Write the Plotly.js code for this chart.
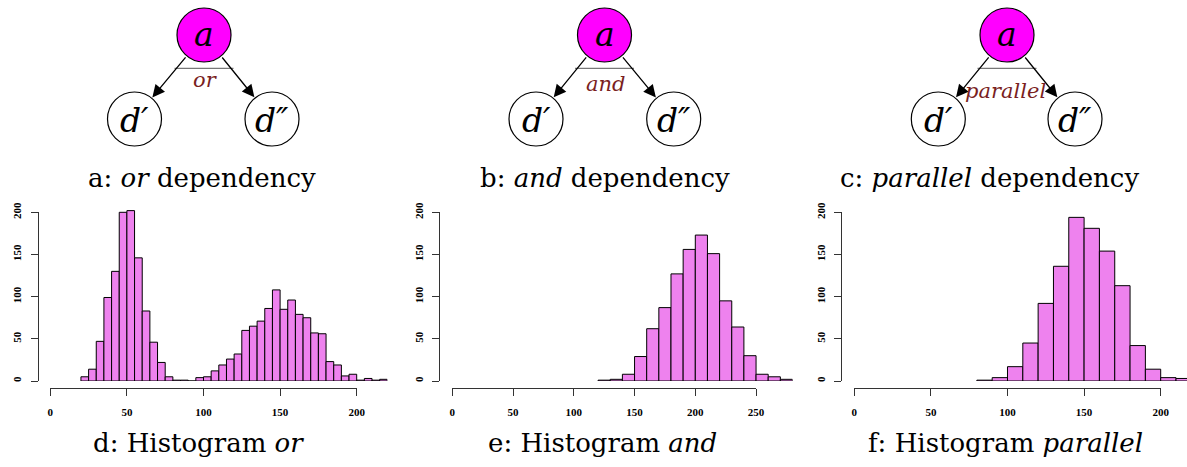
<!DOCTYPE html>
<html><head><meta charset="utf-8">
<script src="https://cdn.plot.ly/plotly-3.0.1.min.js"></script>
<style>html,body{margin:0;padding:0;background:#fff}</style>
</head><body><div id="chart" style="width:1187px;height:467px"></div>
<script>
// ---------------- data ----------------
const orBinStarts = [20,25,30,35,40,45,50,55,60,65,70,75,80,85,90,95,100,105,110,115,120,125,130,135,140,145,150,155,160,165,170,175,180,185,190,195,200,205,210,215];
const orCounts    = [5,14,47,99,130,200,202,146,83,46,22,5,1,1,0,4,5,12,19,26,32,60,65,71,86,108,85,96,79,75,57,56,23,19,6,8,1,3,1,2];
const andBinStarts = [120,130,140,150,160,170,180,190,200,210,220,230,240,250,260,270];
const andCounts    = [1,2,8,29,62,87,127,156,173,151,95,64,30,8,5,2];
const parBinStarts = [80,90,100,110,120,130,140,150,160,170,180,190,200,210];
const parCounts    = [1,4,17,45,92,136,194,181,154,113,42,14,4,3];
const orTicks  = [0,50,100,150,200];
const andTicks = [0,50,100,150,200,250];
const parTicks = [0,50,100,150,200];
const yTicks   = [0,50,100,150,200];
const topCaptions = ['a: <i>or</i> dependency','b: <i>and</i> dependency','c: <i>parallel</i> dependency'];
const edgeLabels  = ['or','and','parallel'];
const histCaptions = ['d: Histogram <i>or</i>','e: Histogram <i>and</i>','f: Histogram <i>parallel</i>'];

// ---------------- geometry helpers (pixels -> paper) ----------------
const W = 1187, H = 467;
const fx = p => p / W;
const fy = p => 1 - p / H;

const Y0PX = 381, YPPU = 0.8435, XAXIS_Y = 387.7;
const panels = [
  {bins: orBinStarts,  counts: orCounts,  width: 5,  ticks: orTicks,  x0: 50.3,  ppu: 1.532, dataMax: 220, yAxisX: 37.7},
  {bins: andBinStarts, counts: andCounts, width: 10, ticks: andTicks, x0: 452.3, ppu: 1.215, dataMax: 280, yAxisX: 439.3},
  {bins: parBinStarts, counts: parCounts, width: 10, ticks: parTicks, x0: 854.3, ppu: 1.532, dataMax: (W - 854.3) / 1.532, yAxisX: 841}
];

const tickFont = {family: 'Liberation Serif, serif', size: 11, color: '#000', weight: 'bold'};
const traces = [];
const layout = {
  width: W, height: H, autosize: false,
  margin: {l: 0, r: 0, t: 0, b: 0, pad: 0},
  paper_bgcolor: '#fff', plot_bgcolor: 'rgba(0,0,0,0)',
  showlegend: false, bargap: 0,
  shapes: [], annotations: []
};

panels.forEach((p, i) => {
  const n = i + 1, d = i + 4;
  const xs = n === 1 ? '' : String(n);
  traces.push({
    type: 'bar', x: p.bins, y: p.counts, width: p.width, offset: 0,
    xaxis: 'x' + xs, yaxis: 'y' + xs,
    marker: {color: '#EE82EE', line: {color: '#000', width: 1}},
    hoverinfo: 'x+y'
  });
  layout['xaxis' + xs] = {
    domain: [fx(p.x0), Math.min(1, fx(p.x0 + p.dataMax * p.ppu))],
    range: [0, p.dataMax], visible: false, fixedrange: true, anchor: 'y' + xs
  };
  layout['yaxis' + xs] = {
    domain: [fy(Y0PX), fy(Y0PX - 210 * YPPU)],
    range: [0, 210], visible: false, fixedrange: true, anchor: 'x' + xs
  };
  // R-style decorative axes
  traces.push({type: 'scatter', x: [], y: [], xaxis: 'x' + d, yaxis: 'y' + d, hoverinfo: 'skip'});
  const tmax = p.ticks[p.ticks.length - 1];
  layout['xaxis' + d] = {
    domain: [fx(p.x0), fx(p.x0 + tmax * p.ppu)], range: [0, tmax],
    anchor: 'free', position: fy(XAXIS_Y), side: 'bottom',
    showline: true, linecolor: '#333', linewidth: 1,
    ticks: 'outside', ticklen: 7, tickwidth: 1, tickcolor: '#333',
    tickmode: 'array', tickvals: p.ticks, ticktext: p.ticks.map(String),
    tickfont: tickFont, ticklabelstandoff: 7,
    showgrid: false, zeroline: false, fixedrange: true
  };
  layout['yaxis' + d] = {
    domain: [fy(Y0PX), fy(Y0PX - 200 * YPPU)], range: [0, 200],
    anchor: 'free', position: fx(p.yAxisX), side: 'left',
    showline: true, linecolor: '#333', linewidth: 1,
    ticks: 'outside', ticklen: 7, tickwidth: 1, tickcolor: '#333',
    tickmode: 'array', tickvals: yTicks, ticktext: yTicks.map(String),
    tickfont: tickFont, tickangle: -90, ticklabelstandoff: 5,
    showgrid: false, zeroline: false, fixedrange: true
  };
  layout.annotations.push({
    xref: 'paper', yref: 'paper', x: fx([198.7, 603, 1006][i]), y: fy(442.7),
    xanchor: 'center', yanchor: 'middle', showarrow: false,
    text: histCaptions[i], font: {family: 'DejaVu Serif, serif', size: 26, color: '#000'}
  });
});

// ---------------- dependency diagrams ----------------
const R = 27;
const diagrams = [
  {A: [204, 35],    D1: [134.5, 119], D2: [272, 119],    cap: 202,   lab: [205, 80]},
  {A: [604.5, 35],  D1: [536, 119],   D2: [673.7, 119],  cap: 604.5, lab: [605.8, 84.4]},
  {A: [1007, 35],   D1: [938.3, 119], D2: [1075, 119],   cap: 989,   lab: [1005.8, 91]}
];
const circle = (c, fill) => ({
  type: 'circle', xref: 'paper', yref: 'paper',
  x0: fx(c[0] - R), x1: fx(c[0] + R), y0: fy(c[1] + R), y1: fy(c[1] - R),
  fillcolor: fill, line: {color: '#000', width: 1.2}, layer: 'above'
});
const nodeFont = {family: 'DejaVu Serif, serif', size: 33, color: '#000', style: 'italic'};
function arrow(A, D) {
  const dx = D[0] - A[0], dy = D[1] - A[1], L = Math.hypot(dx, dy);
  const ux = dx / L, uy = dy / L;
  const tail = [A[0] + R * ux, A[1] + R * uy];
  const tip = [D[0] - (R + 1) * ux, D[1] - (R + 1) * uy];
  return {
    xref: 'paper', yref: 'paper', x: fx(tip[0]), y: fy(tip[1]),
    axref: 'pixel', ayref: 'pixel', ax: tail[0] - tip[0], ay: tail[1] - tip[1],
    showarrow: true, arrowhead: 2, arrowsize: 1.9, arrowwidth: 1.3, arrowcolor: '#000', text: ''
  };
}
diagrams.forEach((g, i) => {
  layout.shapes.push({
    type: 'line', xref: 'paper', yref: 'paper',
    x0: fx(g.A[0] - 29.5), x1: fx(g.A[0] + 29.5), y0: fy(68.3), y1: fy(68.3),
    line: {color: '#555', width: 1}
  });
  layout.shapes.push(circle(g.A, '#FF00FF'), circle(g.D1, '#FFFFFF'), circle(g.D2, '#FFFFFF'));
  layout.annotations.push(arrow(g.A, g.D1), arrow(g.A, g.D2));
  layout.annotations.push(
    {xref: 'paper', yref: 'paper', x: fx(g.A[0]), y: fy(34.3), showarrow: false, xanchor: 'center', yanchor: 'middle', text: 'a', font: nodeFont},
    {xref: 'paper', yref: 'paper', x: fx(g.D1[0]), y: fy(121), showarrow: false, xanchor: 'center', yanchor: 'middle', text: 'd\u2032', font: nodeFont},
    {xref: 'paper', yref: 'paper', x: fx(g.D2[0]), y: fy(121), showarrow: false, xanchor: 'center', yanchor: 'middle', text: 'd\u2033', font: nodeFont},
    {xref: 'paper', yref: 'paper', x: fx(g.lab[0]), y: fy(g.lab[1]), showarrow: false, xanchor: 'center', yanchor: 'middle',
     text: edgeLabels[i], font: {family: 'DejaVu Serif, serif', size: 21, color: '#7a1f1f', style: 'italic'}},
    {xref: 'paper', yref: 'paper', x: fx(g.cap), y: fy(178), showarrow: false, xanchor: 'center', yanchor: 'middle',
     text: topCaptions[i], font: {family: 'DejaVu Serif, serif', size: 26, color: '#000'}}
  );
});

Plotly.newPlot('chart', traces, layout, {staticPlot: true, displayModeBar: false});
</script>
</body></html>
